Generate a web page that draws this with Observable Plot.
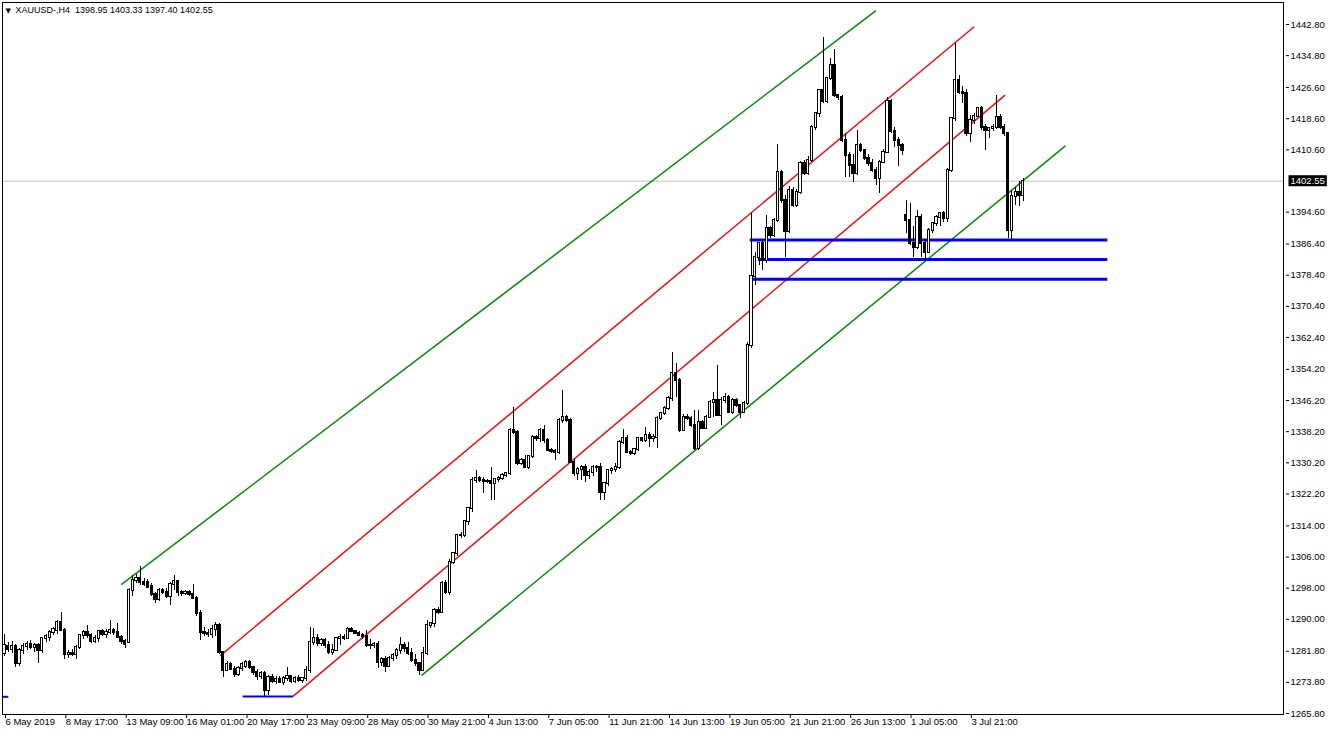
<!DOCTYPE html>
<html><head><meta charset="utf-8">
<script src="https://cdn.jsdelivr.net/npm/d3@7"></script>
<script src="https://cdn.jsdelivr.net/npm/@observablehq/plot@0.6"></script>
<style>html,body{margin:0;padding:0;background:#fff;} svg{display:block}</style>
</head><body><div id="chart"></div>
<script>
// ---- data ----
const symbolName = "XAUUSD-,H4";
const lastBar = ["1398.95", "1403.33", "1397.40", "1402.55"];
const currentPrice = 1402.55;

const opens = [
1281.2,1283.0,1282.2,1283.1,1278.6,1282.0,1282.9,1283.6,1282.8,1283.2,
1282.0,1285.0,1285.3,1286.6,1287.2,1289.3,1287.2,1281.0,1281.3,1280.9,
1282.8,1285.9,1286.6,1285.8,1284.2,1285.0,1286.9,1286.2,1286.6,1287.1,
1286.5,1285.3,1284.3,1284.1,1297.5,1300.0,1300.5,1299.4,1299.4,1298.4,
1296.4,1295.0,1297.4,1297.0,1295.9,1299.0,1299.6,1297.0,1296.6,1296.9,
1296.3,1295.4,1291.6,1286.7,1286.3,1286.0,1287.5,1288.4,1281.4,1276.9,
1278.3,1277.2,1275.9,1277.4,1278.0,1278.9,1277.5,1276.3,1275.2,1276.1,
1271.7,1275.0,1274.1,1274.6,1273.8,1274.8,1275.2,1274.0,1274.9,1274.2,
1274.7,1276.9,1284.1,1285.0,1283.8,1284.5,1283.2,1281.6,1282.0,1285.0,
1285.4,1285.0,1287.5,1286.9,1286.4,1285.8,1285.5,1283.3,1283.2,1283.5,
1279.0,1279.6,1277.8,1279.9,1280.7,1282.0,1283.3,1282.4,1281.1,1279.4,
1278.6,1276.9,1281.2,1288.4,1288.8,1292.3,1291.8,1299.1,1297.0,1304.7,
1306.8,1311.5,1311.6,1315.0,1318.4,1325.7,1326.1,1325.6,1325.4,1325.5,
1325.0,1326.0,1326.3,1327.0,1327.4,1338.5,1338.0,1330.0,1330.8,1329.1,
1331.7,1336.8,1336.4,1338.5,1335.9,1333.4,1333.0,1332.9,1341.1,1341.8,
1341.1,1330.4,1327.4,1328.5,1328.9,1327.0,1327.8,1329.0,1328.9,1322.7,
1324.8,1328.2,1328.6,1329.1,1335.5,1336.4,1332.9,1332.6,1333.5,1336.4,
1335.9,1337.2,1336.4,1336.8,1341.5,1342.8,1344.1,1346.6,1353.1,1351.3,
1338.6,1341.9,1341.6,1339.8,1333.8,1340.6,1339.0,1341.9,1345.8,1346.2,
1342.4,1346.2,1347.0,1343.2,1346.2,1344.9,1343.2,1345.4,1360.3,1378.0,
1383.0,1386.5,1382.2,1390.3,1388.6,1392.5,1404.9,1397.6,1389.5,1400.2,
1396.3,1399.7,1407.0,1404.5,1407.9,1416.4,1419.9,1425.8,1422.9,1428.9,
1432.3,1424.6,1424.0,1413.0,1409.2,1406.5,1404.4,1411.7,1410.4,1408.3,
1407.0,1405.3,1403.2,1407.4,1410.0,1422.9,1415.2,1413.0,1411.7,1393.7,
1392.5,1386.5,1385.6,1393.3,1386.5,1384.3,1389.9,1391.6,1393.3,1394.2,
1393.0,1405.3,1418.6,1428.4,1425.4,1425.0,1414.7,1418.1,1419.2,1421.1,
1416.4,1415.6,1416.0,1416.4,1419.0,1416.4,1414.7,1389.9,1398.5,1399.6,1398.95];

const highs = [
1286.1,1284.0,1284.3,1283.6,1282.6,1283.8,1284.2,1284.6,1283.8,1283.9,
1285.4,1286.0,1287.0,1288.0,1289.8,1291.8,1287.6,1282.0,1282.2,1283.3,
1286.2,1287.1,1288.3,1286.4,1285.8,1287.2,1287.4,1287.3,1289.8,1287.6,
1288.8,1285.8,1284.9,1297.9,1301.2,1301.4,1303.6,1300.5,1300.2,1299.3,
1297.0,1297.8,1298.0,1298.0,1299.5,1301.2,1300.0,1297.3,1297.5,1297.5,
1299.0,1295.8,1292.2,1287.8,1287.3,1288.4,1289.3,1288.9,1281.8,1279.2,
1279.0,1277.8,1277.9,1279.0,1279.4,1279.3,1278.0,1277.0,1276.6,1276.7,
1275.5,1275.9,1275.4,1275.2,1275.3,1277.7,1275.6,1275.4,1275.5,1275.1,
1277.9,1288.0,1287.6,1286.0,1285.2,1285.0,1284.2,1283.5,1285.4,1286.2,
1286.0,1287.8,1288.0,1287.2,1286.9,1286.4,1287.0,1284.7,1284.0,1284.3,
1280.2,1280.4,1280.5,1281.3,1282.5,1285.4,1284.0,1284.1,1282.6,1281.0,
1279.0,1282.8,1289.7,1289.3,1292.8,1293.0,1299.6,1300.0,1305.3,1307.2,
1311.9,1312.4,1315.4,1318.8,1326.5,1328.2,1326.8,1326.4,1326.0,1329.1,
1326.2,1326.7,1327.5,1327.8,1339.0,1344.5,1338.4,1331.2,1332.2,1331.9,
1337.3,1337.2,1338.9,1339.8,1336.4,1334.0,1333.6,1341.6,1348.8,1342.4,
1341.6,1331.0,1329.0,1329.4,1329.8,1328.5,1329.6,1329.5,1330.0,1325.2,
1328.6,1329.0,1330.0,1336.0,1338.7,1337.3,1333.4,1334.0,1336.8,1336.8,
1339.4,1338.0,1337.5,1342.0,1343.2,1344.6,1347.2,1358.6,1355.6,1351.8,
1342.6,1342.5,1342.0,1343.6,1343.6,1341.2,1342.4,1346.2,1348.3,1355.2,
1346.9,1347.9,1347.4,1346.8,1346.6,1345.3,1346.0,1361.0,1394.2,1384.3,
1386.9,1387.4,1393.7,1390.8,1393.0,1412.1,1405.4,1399.0,1401.3,1401.0,
1400.5,1407.5,1407.8,1409.0,1416.9,1420.3,1426.2,1439.5,1429.3,1434.0,
1436.5,1424.9,1424.6,1414.8,1410.0,1409.5,1415.6,1412.3,1410.8,1409.3,
1408.0,1406.0,1407.8,1410.8,1424.1,1423.5,1416.3,1413.8,1412.3,1397.6,
1396.7,1391.0,1395.0,1394.0,1387.0,1390.5,1392.0,1393.8,1394.6,1394.8,
1405.8,1419.0,1437.8,1429.6,1427.0,1426.0,1419.5,1420.0,1421.6,1421.8,
1417.0,1416.2,1417.0,1424.6,1419.6,1417.0,1415.0,1400.2,1401.0,1402.5,1403.33];

const lows = [
1280.5,1281.5,1281.3,1277.5,1277.8,1281.0,1282.0,1282.2,1281.6,1278.6,
1281.2,1284.0,1284.3,1285.8,1286.0,1286.8,1279.6,1280.0,1280.4,1279.8,
1282.3,1284.9,1285.0,1283.8,1283.9,1284.1,1285.5,1285.1,1286.0,1285.8,
1285.0,1283.6,1282.4,1283.8,1295.8,1299.1,1298.6,1298.4,1298.0,1295.8,
1294.0,1294.6,1296.4,1295.3,1293.6,1297.3,1295.9,1295.9,1296.1,1295.9,
1295.2,1290.8,1284.6,1285.6,1285.3,1285.2,1285.5,1280.9,1275.1,1276.5,
1276.8,1275.1,1275.3,1276.6,1277.3,1277.0,1275.6,1274.3,1274.6,1270.0,
1270.4,1273.5,1273.2,1273.4,1273.0,1274.0,1273.5,1273.4,1273.7,1273.6,
1274.1,1276.0,1283.2,1283.0,1283.0,1282.6,1281.0,1280.6,1281.8,1283.4,
1284.6,1284.8,1286.6,1286.0,1285.5,1284.9,1282.8,1282.3,1282.5,1277.3,
1277.9,1276.4,1277.5,1279.2,1279.8,1281.0,1281.6,1280.6,1279.0,1278.0,
1275.6,1276.5,1280.8,1287.6,1288.0,1291.2,1291.4,1296.5,1296.0,1304.0,
1306.2,1310.8,1311.0,1314.0,1317.5,1325.0,1325.2,1322.3,1324.8,1320.5,
1320.5,1325.2,1325.6,1326.4,1327.0,1337.4,1329.6,1329.4,1328.8,1328.6,
1331.2,1335.8,1335.3,1335.2,1333.0,1332.5,1330.8,1332.4,1340.2,1340.5,
1330.0,1326.8,1325.7,1325.7,1325.2,1326.0,1326.8,1327.6,1320.4,1320.5,
1324.2,1327.2,1327.8,1328.6,1335.0,1332.5,1332.0,1332.0,1333.2,1335.4,
1335.3,1334.2,1335.5,1333.8,1341.0,1342.3,1343.7,1346.0,1347.1,1338.1,
1338.2,1341.0,1339.4,1333.4,1333.4,1338.8,1338.8,1341.6,1341.9,1342.0,
1339.8,1345.5,1342.8,1342.6,1344.4,1341.5,1342.8,1344.8,1359.6,1375.8,
1380.9,1379.6,1381.5,1387.8,1388.2,1392.0,1396.8,1383.0,1389.0,1395.8,
1395.8,1399.2,1404.0,1404.0,1407.4,1415.6,1419.0,1422.5,1422.5,1428.4,
1424.0,1423.4,1412.6,1403.6,1403.6,1402.3,1404.0,1410.0,1407.8,1406.4,
1404.8,1401.5,1399.3,1407.0,1409.6,1414.8,1411.3,1406.2,1409.2,1389.0,
1386.0,1383.0,1385.0,1383.0,1382.2,1384.0,1389.0,1390.8,1391.0,1392.0,
1392.0,1404.8,1418.0,1424.8,1422.4,1413.9,1412.6,1417.0,1418.8,1415.6,
1410.4,1413.4,1415.2,1415.8,1415.8,1413.9,1387.8,1387.6,1396.3,1396.0,1397.40];

const closes = [
1283.2,1282.2,1283.1,1278.6,1282.0,1282.9,1283.6,1282.8,1283.2,1282.0,
1285.0,1285.5,1286.6,1287.4,1289.3,1287.2,1281.0,1281.3,1280.9,1282.8,
1285.9,1286.6,1285.8,1284.2,1285.0,1286.9,1286.2,1286.6,1287.1,1286.5,
1285.3,1284.3,1283.5,1297.5,1300.0,1300.5,1299.4,1298.9,1298.2,1296.4,
1295.0,1297.4,1297.0,1295.9,1299.0,1299.6,1297.0,1296.6,1296.9,1296.3,
1295.4,1291.6,1286.7,1286.3,1286.0,1287.5,1288.4,1281.4,1276.9,1278.3,
1277.2,1275.9,1277.4,1278.3,1278.9,1277.5,1276.3,1275.2,1276.1,1271.7,
1275.0,1274.1,1274.6,1273.8,1274.8,1275.2,1274.0,1274.9,1274.2,1274.7,
1276.9,1284.1,1285.0,1283.8,1284.5,1283.2,1281.6,1282.0,1285.0,1285.4,
1285.0,1287.5,1286.9,1286.4,1285.8,1285.5,1283.3,1283.2,1283.5,1279.0,
1279.6,1277.8,1279.9,1280.7,1282.0,1283.3,1282.4,1281.1,1279.4,1278.6,
1276.9,1281.2,1288.4,1288.8,1292.3,1291.8,1299.1,1297.0,1304.7,1306.8,
1311.5,1311.6,1315.0,1318.4,1325.7,1326.1,1325.6,1325.4,1325.5,1325.0,
1326.0,1326.3,1327.0,1327.4,1338.5,1338.0,1330.0,1330.8,1329.1,1331.7,
1336.8,1336.4,1338.5,1335.9,1333.4,1333.0,1332.9,1341.1,1341.8,1341.1,
1330.4,1327.4,1328.5,1328.9,1327.0,1327.8,1329.0,1328.9,1322.7,1324.8,
1328.2,1328.6,1329.1,1335.5,1336.4,1332.9,1332.6,1333.5,1336.4,1335.9,
1337.2,1336.4,1336.8,1341.5,1342.8,1344.1,1346.6,1353.1,1351.3,1338.6,
1341.9,1341.6,1339.8,1333.8,1340.6,1339.0,1341.9,1345.8,1346.2,1342.4,
1346.2,1347.0,1343.2,1346.2,1344.9,1343.2,1345.4,1360.3,1378.0,1383.0,
1386.5,1382.2,1390.3,1388.6,1392.5,1404.9,1397.6,1389.5,1400.2,1396.3,
1399.7,1407.0,1404.5,1407.9,1416.4,1419.9,1425.8,1422.9,1428.9,1432.3,
1424.6,1424.0,1413.0,1409.2,1406.5,1404.4,1411.7,1410.4,1408.3,1407.0,
1405.3,1403.2,1407.4,1410.0,1422.9,1415.2,1413.0,1411.7,1410.4,1392.5,
1386.5,1385.6,1393.3,1386.5,1384.3,1389.9,1391.6,1393.3,1394.2,1393.0,
1405.3,1418.6,1428.4,1425.4,1425.0,1414.7,1418.1,1419.2,1421.1,1416.4,
1415.6,1416.0,1416.4,1419.0,1416.4,1414.7,1389.9,1398.5,1399.6,1398.95,1402.55];

// price axis labels
const yTickValues = [1442.80,1434.80,1426.60,1418.60,1410.60,1394.60,1386.40,1378.40,1370.40,1362.40,1354.20,
  1346.20,1338.20,1330.20,1322.20,1314.00,1306.00,1298.00,1290.00,1281.80,1273.80,1265.80];
// time axis labels (bar index -> label)
const xTickIdx = [0,16,32,48,64,80,96,112,128,144,160,176,192,208,224,240,256];
const xTickLabels = ["6 May 2019","8 May 17:00","13 May 09:00","16 May 01:00","20 May 17:00","23 May 09:00",
  "28 May 05:00","30 May 21:00","4 Jun 13:00","7 Jun 05:00","11 Jun 21:00","14 Jun 13:00","19 Jun 05:00",
  "21 Jun 21:00","26 Jun 13:00","1 Jul 05:00","3 Jul 21:00"];

// drawn objects: [barIndex1, price1, barIndex2, price2]
const greenLines = [[30.93, 1298.9, 230.98, 1446.35], [110.5, 1275.54, 281.19, 1411.61]];
const redLines = [[57.14, 1280.62, 257.01, 1442.21], [76.46, 1270.20, 265.20, 1424.66]];
const blueLevels = [[197.5, 1387.44, 292.3, 1387.44], [199.7, 1382.46, 292.3, 1382.46], [197.5, 1377.37, 292.3, 1377.37]];
const blueShort = [[63.1, 1270.2, 76.46, 1270.2], [-0.5, 1270.1, 1.0, 1270.1]];

// ---- chart ----
const idx = d3.range(opens.length);
const link = (data, stroke, w) => Plot.link(data, {x1: d => d[0], y1: d => d[1], x2: d => d[2], y2: d => d[3], stroke, strokeWidth: w});
const priceText = currentPrice.toFixed(2);

const chart = Plot.plot({
  width: 1332, height: 734,
  marginLeft: 2, marginRight: 49, marginTop: 2, marginBottom: 20,
  style: {fontFamily: "'Liberation Sans', Arial, sans-serif", fontSize: "9.5px", background: "#ffffff", color: "#000000", overflow: "visible"},
  x: {type: "linear", domain: [-0.53, 338.99]},
  y: {type: "linear", domain: [1265.55, 1448.45]},
  marks: [
    Plot.ruleY([currentPrice], {stroke: "#c0c0c0", strokeWidth: 1}),
    link(greenLines, "#078a07", 1.5),
    link(redLines, "#f01010", 1.5),
    link(blueLevels, "#0000ff", 3),
    link(blueShort, "#0000ff", 2),
    Plot.ruleX(idx, {x: i => i, y1: i => lows[i], y2: i => highs[i], stroke: "#000", strokeWidth: 1, shapeRendering: "crispEdges"}),
    Plot.rect(idx, {
      x1: i => i - 0.3, x2: i => i + 0.3,
      y1: i => Math.min(opens[i], closes[i]), y2: i => Math.max(opens[i], closes[i]),
      fill: i => closes[i] >= opens[i] ? "#ffffff" : "#000000",
      stroke: "#000", strokeWidth: 1, insetTop: -0.5, insetBottom: -0.5, shapeRendering: "crispEdges"
    }),
    Plot.frame({stroke: "#000", shapeRendering: "crispEdges"}),
    Plot.axisY(yTickValues, {anchor: "right", tickSize: 3, dx: 2, tickPadding: 2, tickFormat: d => d.toFixed(2), label: null}),
    Plot.axisX(xTickIdx, {anchor: "bottom", tickSize: 4, tickPadding: 0, textAnchor: "start", dx: 1,
      tickFormat: d => xTickLabels[xTickIdx.indexOf(d)], label: null}),
    Plot.text([currentPrice], {y: d => d, frameAnchor: "right", dx: 7, textAnchor: "start", fill: "#ffffff",
      text: () => priceText}),
    Plot.text(["\u25BC"], {frameAnchor: "top-left", dx: 3, dy: 6, lineAnchor: "top", fontSize: 7, fontFamily: "DejaVu Sans"}),
    Plot.text([`${symbolName}  ${lastBar.join(" ")}`], {frameAnchor: "top-left", dx: 13, dy: 4, lineAnchor: "top", fontSize: 9})
  ]
});
document.getElementById("chart").appendChild(chart);

// black box behind the current price label
const labelNode = [...chart.querySelectorAll("text")].find(e => e.textContent === priceText);
if (labelNode) {
  const b = labelNode.getBBox();
  const r = document.createElementNS("http://www.w3.org/2000/svg", "rect");
  r.setAttribute("x", b.x - 2); r.setAttribute("y", b.y);
  r.setAttribute("width", b.width + 4); r.setAttribute("height", b.height);
  r.setAttribute("fill", "#000");
  if (labelNode.getAttribute("transform")) r.setAttribute("transform", labelNode.getAttribute("transform"));
  labelNode.parentNode.insertBefore(r, labelNode);
}
</script>
</body></html>
